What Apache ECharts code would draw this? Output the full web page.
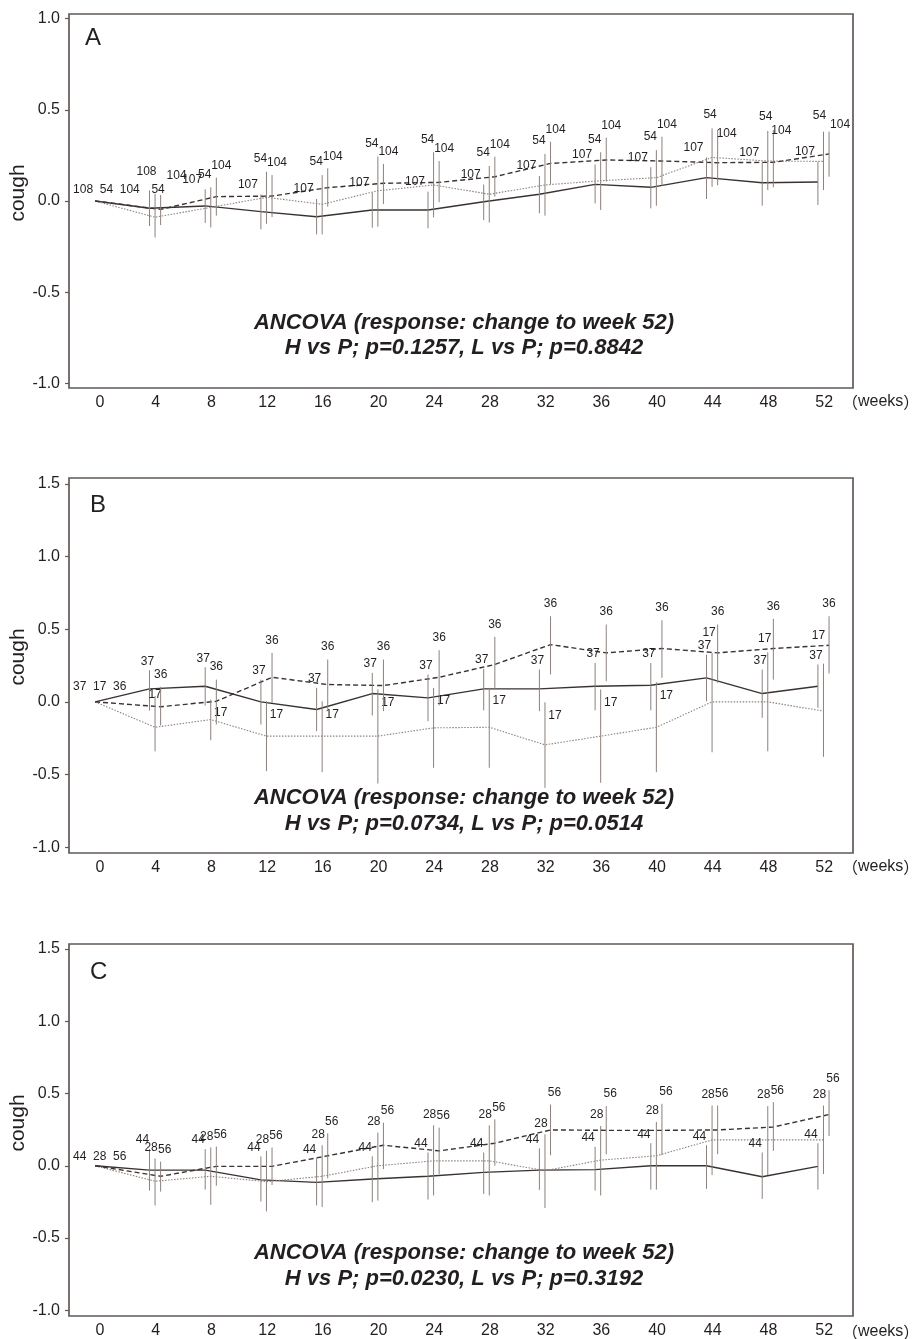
<!DOCTYPE html>
<html><head><meta charset="utf-8">
<script src="https://cdn.jsdelivr.net/npm/echarts@6/dist/echarts.min.js"></script>
<style>html,body{margin:0;padding:0;background:#fff}#c{width:917px;height:1339px}</style>
</head><body><div id="c"></div>
<script>
// ---------------- data ----------------
const weeks = [0,4,8,12,16,20,24,28,32,36,40,44,48,52];
const yTicksA = [-1,-0.5,0,0.5,1];
const yTicksBC = [-1,-0.5,0,0.5,1,1.5];
const panelLetters = ['A','B','C'];
const yAxisTitle = 'cough';
const xAxisTitle = ['（', 'weeks', '）'];
const ancovaLine1 = 'ANCOVA (response: change to week 52)';
const ancovaLine2 = ['H vs P; p=0.1257, L vs P; p=0.8842','H vs P; p=0.0734, L vs P; p=0.0514','H vs P; p=0.0230, L vs P; p=0.3192'];

// Panel A
const A_solid_mean = [0,-0.04,-0.027,-0.058,-0.086,-0.049,-0.049,-0.004,0.037,0.091,0.075,0.128,0.10,0.104];
const A_solid_lo   = [0,-0.137,-0.12,-0.155,-0.183,-0.146,-0.15,-0.105,-0.067,-0.013,-0.04,0.011,-0.026,-0.022];
const A_solid_hi   = [0,0.058,0.064,0.036,0.011,0.046,0.051,0.09,0.137,0.2,0.185,0.239,0.21,0.215];
const A_solid_n    = [108,108,107,107,107,107,107,107,107,107,107,107,107,107];
const A_dotted_mean= [0,-0.089,-0.035,0.02,-0.018,0.056,0.088,0.037,0.088,0.111,0.128,0.239,0.219,0.217];
const A_dotted_lo  = [0,-0.2,-0.145,-0.125,-0.183,-0.141,-0.09,-0.118,-0.08,-0.049,-0.026,0.078,0.06,0.06];
const A_dotted_hi  = [0,0.04,0.075,0.16,0.142,0.243,0.267,0.192,0.258,0.267,0.279,0.398,0.384,0.38];
const A_dotted_n   = [54,54,54,54,54,54,54,54,54,54,54,54,54,54];
const A_dashed_mean= [0,-0.046,0.024,0.027,0.073,0.097,0.102,0.133,0.206,0.225,0.219,0.21,0.212,0.258];
const A_dashed_lo  = [0,-0.132,-0.08,-0.088,-0.031,-0.016,-0.007,0.024,0.093,0.106,0.084,0.086,0.075,0.133];
const A_dashed_hi  = [0,0.033,0.128,0.142,0.179,0.203,0.219,0.243,0.325,0.347,0.352,0.39,0.389,0.38];
const A_dashed_n   = [104,104,104,104,104,104,104,104,104,104,104,104,104,104];

// Panel B
const B_solid_mean = [0,0.089,0.107,0.0,-0.053,0.057,0.027,0.089,0.089,0.107,0.114,0.165,0.057,0.107];
const B_solid_lo   = [0,-0.06,-0.025,-0.156,-0.202,-0.094,-0.133,-0.058,-0.064,-0.058,-0.058,0.004,-0.11,-0.041];
const B_solid_hi   = [0,0.217,0.238,0.153,0.096,0.199,0.188,0.227,0.222,0.268,0.268,0.325,0.222,0.257];
const B_solid_n    = [37,37,37,37,37,37,37,37,37,37,37,37,37,37];
const B_dotted_mean= [0,-0.175,-0.122,-0.236,-0.236,-0.236,-0.179,-0.175,-0.296,-0.236,-0.175,0.0,0.0,-0.064];
const B_dotted_lo  = [0,-0.34,-0.264,-0.477,-0.484,-0.562,-0.454,-0.454,-0.592,-0.557,-0.484,-0.347,-0.34,-0.378];
const B_dotted_hi  = [0,0.039,0.016,0.004,0.004,0.085,0.096,0.096,-0.003,0.085,0.135,0.337,0.341,0.263];
const B_dotted_n   = [17,17,17,17,17,17,17,17,17,17,17,17,17,17];
const B_dashed_mean= [0,-0.034,0.004,0.169,0.119,0.112,0.169,0.257,0.394,0.337,0.367,0.337,0.367,0.389];
const B_dashed_lo  = [0,-0.163,-0.156,-0.007,-0.053,-0.064,-0.025,0.085,0.188,0.142,0.165,0.131,0.153,0.195];
const B_dashed_hi  = [0,0.103,0.153,0.337,0.291,0.291,0.355,0.447,0.589,0.532,0.561,0.532,0.571,0.589];
const B_dashed_n   = [36,36,36,36,36,36,36,36,36,36,36,36,36,36];

// Panel C
const C_solid_mean = [0,-0.03,-0.03,-0.098,-0.115,-0.092,-0.073,-0.046,-0.03,-0.027,0.0,0.0,-0.076,-0.004];
const C_solid_lo   = [0,-0.172,-0.165,-0.248,-0.275,-0.252,-0.234,-0.195,-0.167,-0.172,-0.165,-0.16,-0.229,-0.165];
const C_solid_hi   = [0,0.115,0.115,0.065,0.051,0.065,0.092,0.092,0.12,0.131,0.156,0.142,0.092,0.156];
const C_solid_n    = [44,44,44,44,44,44,44,44,44,44,44,44,44,44];
const C_dotted_mean= [0,-0.107,-0.073,-0.11,-0.073,0.0,0.034,0.034,-0.034,0.039,0.069,0.179,0.179,0.179];
const C_dotted_lo  = [0,-0.275,-0.27,-0.316,-0.286,-0.241,-0.206,-0.206,-0.293,-0.206,-0.165,-0.064,-0.064,-0.057];
const C_dotted_hi  = [0,0.051,0.127,0.103,0.142,0.23,0.28,0.28,0.218,0.275,0.303,0.417,0.413,0.417];
const C_dotted_n   = [28,28,28,28,28,28,28,28,28,28,28,28,28,28];
const C_dashed_mean= [0,-0.073,-0.004,-0.004,0.069,0.142,0.103,0.156,0.248,0.245,0.245,0.248,0.268,0.355];
const C_dashed_lo  = [0,-0.179,-0.138,-0.133,-0.087,-0.023,-0.057,0.0,0.073,0.08,0.073,0.08,0.103,0.206];
const C_dashed_hi  = [0,0.028,0.133,0.127,0.225,0.298,0.264,0.321,0.424,0.413,0.429,0.417,0.44,0.523];
const C_dashed_n   = [56,56,56,56,56,56,56,56,56,56,56,56,56,56];

// ---------------- layout / style ----------------
const FONT = '"Liberation Sans", Arial, sans-serif';
const TXT = '#231f20';
const BOX = '#625955';
const BAR = '#8c817c';
const GRID_LEFT = 69, GRID_W = 784;
const GRID_TOP = [14, 478, 944];
const GRID_H = [374, 375, 374];
const YRANGE = [[-1.025, 1.025], [-1.04, 1.54], [-1.04, 1.535]];
const X_MIN = -2.23, X_MAX = 54.07;
const X_OFF = [-0.45, -0.05, 0.35];   // solid, dotted, dashed horizontal offset (weeks)
const X_START = -0.36;
const LINE_STYLES = [
  {color:'#3a3230', width:1.4, type:'solid'},
  {color:'#8e827d', width:1.1, type:[1.5,1.5]},
  {color:'#3a3230', width:1.4, type:[5,3]}
];
// label nudges (px) relative to the top of each error bar: [dx, dy]
const LABEL_OFF = [
  [[-13,-10],[-6,-13],[5,-12]],
  [[-2,-9],[10,13],[0,-12.5]],
  [[-7,-9],[-4,-11],[4,-12]]
];
const LABEL_OVERRIDE = {
  0:{0:{4:[-3,-19]}, 1:{4:[3,-4], 44:[-2,-14], 48:[-2,-14], 52:[-4,-16]}, 2:{4:[16,-19], 44:[9,4], 48:[8,1], 52:[11,-7]}},
  1:{1:{4:[0,-1],44:[-3,-20],48:[-3,-14],52:[-5,-28]}}
};
const START_LABEL_DY = [-11,-15,-9];
const LETTER_POS = [[85,38],[90,505],[90,972]];
const ANCOVA_Y = [[322.5,347.5],[797.5,823.5],[1252.5,1279]];

const panels = [
  {ticks: yTicksA, series: [
    {mean:A_solid_mean, lo:A_solid_lo, hi:A_solid_hi, n:A_solid_n},
    {mean:A_dotted_mean, lo:A_dotted_lo, hi:A_dotted_hi, n:A_dotted_n},
    {mean:A_dashed_mean, lo:A_dashed_lo, hi:A_dashed_hi, n:A_dashed_n}]},
  {ticks: yTicksBC, series: [
    {mean:B_solid_mean, lo:B_solid_lo, hi:B_solid_hi, n:B_solid_n},
    {mean:B_dotted_mean, lo:B_dotted_lo, hi:B_dotted_hi, n:B_dotted_n},
    {mean:B_dashed_mean, lo:B_dashed_lo, hi:B_dashed_hi, n:B_dashed_n}]},
  {ticks: yTicksBC, series: [
    {mean:C_solid_mean, lo:C_solid_lo, hi:C_solid_hi, n:C_solid_n},
    {mean:C_dotted_mean, lo:C_dotted_lo, hi:C_dotted_hi, n:C_dotted_n},
    {mean:C_dashed_mean, lo:C_dashed_lo, hi:C_dashed_hi, n:C_dashed_n}]}
];

const grids = [], xAxes = [], yAxes = [], series = [], graphics = [];
panels.forEach((p, pi) => {
  grids.push({left:GRID_LEFT, top:GRID_TOP[pi], width:GRID_W, height:GRID_H[pi], show:true,
    borderColor:BOX, borderWidth:1.7, backgroundColor:'transparent'});
  xAxes.push({type:'value', gridIndex:pi, min:X_MIN, max:X_MAX, position:'bottom',
    axisLine:{show:false, onZero:false}, axisTick:{show:false}, splitLine:{show:false},
    axisLabel:{customValues:weeks, formatter:v=>String(v), fontSize:16, color:TXT, margin:7, fontFamily:FONT}});
  yAxes.push({type:'value', gridIndex:pi, min:YRANGE[pi][0], max:YRANGE[pi][1], position:'left',
    axisLine:{show:false, onZero:false}, splitLine:{show:false},
    axisTick:{show:true, inside:false, customValues:p.ticks, length:4, lineStyle:{color:BOX, width:1.2}},
    axisLabel:{customValues:p.ticks, formatter:v=>Number(v).toFixed(1), fontSize:16, color:TXT, margin:9, fontFamily:FONT}});

  p.series.forEach((s, si) => {
    series.push({type:'line', xAxisIndex:pi, yAxisIndex:pi, symbol:'none', silent:true, animation:false, z:3,
      lineStyle:LINE_STYLES[si],
      data: weeks.map((w, i) => [i === 0 ? X_START : w + X_OFF[si], s.mean[i]])});
  });

  const cdata = [];
  p.series.forEach((s, si) => weeks.forEach((w, i) => {
    cdata.push([i === 0 ? X_START : w + X_OFF[si], s.lo[i], s.hi[i], s.n[i], si, i]);
  }));
  series.push({type:'custom', xAxisIndex:pi, yAxisIndex:pi, data:cdata, encode:{x:0, y:[1,2]},
    silent:true, animation:false, z:4, clip:false,
    renderItem:(params, api) => {
      const x = api.value(0), lo = api.value(1), hi = api.value(2), n = api.value(3), si = api.value(4), i = api.value(5);
      if (i === 0) {
        if (si !== 0) return {type:'group', children:[]};
        const pt = api.coord([x, p.series[0].mean[0]]);
        const txt = p.series.map(s => s.n[0]).join('  ');
        return {type:'text', x:pt[0]-22, y:pt[1]+START_LABEL_DY[pi],
          style:{text:txt, fill:TXT, font:'12px ' + FONT, textAlign:'left', textVerticalAlign:'middle'}};
      }
      const top = api.coord([x, hi]), bot = api.coord([x, lo]);
      const ov = LABEL_OVERRIDE[pi] && LABEL_OVERRIDE[pi][si] && LABEL_OVERRIDE[pi][si][weeks[i]];
      const off = ov || LABEL_OFF[pi][si];
      return {type:'group', children:[
        {type:'line', shape:{x1:top[0], y1:top[1], x2:bot[0], y2:bot[1]}, style:{stroke:BAR, lineWidth:1}},
        {type:'text', x:top[0]+off[0], y:top[1]+off[1],
          style:{text:String(n), fill:TXT, font:'12px ' + FONT, textAlign:'center', textVerticalAlign:'middle'}}
      ]};
    }});

  graphics.push({type:'text', left:LETTER_POS[pi][0], top:LETTER_POS[pi][1]-12,
    style:{text:panelLetters[pi], fill:TXT, font:'24px ' + FONT}});
  graphics.push({type:'text', x:18, y:GRID_TOP[pi]+179, rotation:Math.PI/2,
    style:{text:yAxisTitle, fill:TXT, font:'21px ' + FONT, textAlign:'center', textVerticalAlign:'middle'}});
  graphics.push({type:'text', x:464, y:ANCOVA_Y[pi][0],
    style:{text:ancovaLine1, fill:TXT, font:'italic bold 22px ' + FONT, textAlign:'center', textVerticalAlign:'middle'}});
  graphics.push({type:'text', x:464, y:ANCOVA_Y[pi][1],
    style:{text:ancovaLine2[pi], fill:TXT, font:'italic bold 22px ' + FONT, textAlign:'center', textVerticalAlign:'middle'}});
  graphics.push({type:'text', x:842, y:GRID_TOP[pi]+GRID_H[pi]+14,
    style:{text:'{p|' + xAxisTitle[0] + '}{w|' + xAxisTitle[1] + '}{p|' + xAxisTitle[2] + '}',
      textAlign:'left', textVerticalAlign:'middle',
      rich:{
        p:{fontFamily:'"Noto Sans CJK JP", sans-serif', fontSize:16, fill:TXT, color:TXT},
        w:{fontFamily:FONT, fontSize:16, fill:TXT, color:TXT}
      }}});
});

const chart = echarts.init(document.getElementById('c'), null, {renderer:'canvas'});
chart.setOption({
  animation:false,
  backgroundColor:'#ffffff',
  grid:grids, xAxis:xAxes, yAxis:yAxes, series:series, graphic:graphics
});
</script>
</body></html>
